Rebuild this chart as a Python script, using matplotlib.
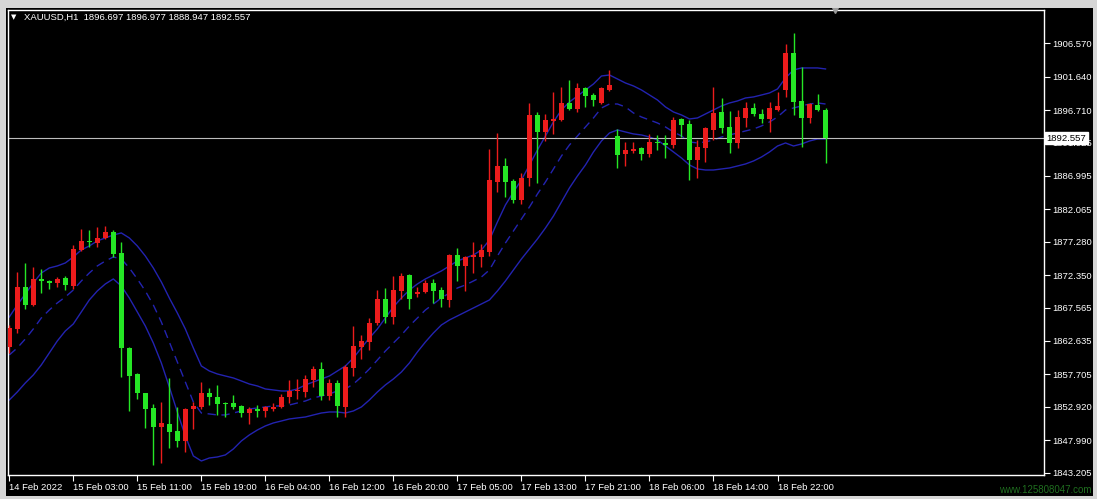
import matplotlib
matplotlib.use("Agg")
import matplotlib.pyplot as plt
import matplotlib.transforms as mtransforms
from matplotlib.patches import Rectangle
import numpy as np

# XAUUSD H1 candles
opens = [1861.75, 1864.36, 1870.56, 1867.95, 1871.83, 1871.54, 1871.15, 1871.89, 1870.75, 1876.07,
         1877.40, 1877.14, 1877.84, 1878.77, 1875.58, 1861.65, 1857.77, 1854.92, 1852.71, 1849.99,
         1850.39, 1849.36, 1847.93, 1852.56, 1852.94, 1855.01, 1854.33, 1853.53, 1853.53, 1853.05,
         1852.06, 1852.56, 1852.35, 1852.56, 1852.85, 1854.33, 1855.21, 1855.16, 1856.88, 1858.46,
         1854.52, 1856.40, 1852.94, 1858.61, 1861.80, 1862.54, 1865.25, 1868.79, 1866.22, 1870.06,
         1872.33, 1869.57, 1869.91, 1871.15, 1870.16, 1868.69, 1875.33, 1873.71, 1875.08, 1875.08,
         1875.82, 1886.15, 1888.46, 1886.29, 1883.45, 1886.65, 1895.99, 1893.53, 1895.15, 1895.25,
         1897.80, 1896.83, 1899.93, 1898.94, 1897.72, 1899.68, 1892.89, 1890.20, 1890.71, 1891.16,
         1890.20, 1892.00, 1891.81, 1891.56, 1895.36, 1894.66, 1889.35, 1891.16, 1893.78, 1896.48,
         1894.17, 1891.81, 1895.50, 1896.98, 1896.14, 1895.36, 1896.73, 1899.68, 1905.18, 1898.10,
         1895.50, 1897.47, 1896.697]
highs = [1865.00, 1872.87, 1874.19, 1873.60, 1873.22, 1871.70, 1872.04, 1872.23, 1876.81, 1879.12,
         1879.02, 1879.51, 1879.61, 1879.02, 1877.29, 1861.80, 1857.87, 1855.01, 1853.34, 1853.59,
         1857.13, 1852.94, 1852.70, 1853.68, 1856.63, 1855.66, 1856.15, 1853.68, 1854.67, 1853.19,
         1852.94, 1853.19, 1853.05, 1853.44, 1854.82, 1856.88, 1856.96, 1857.62, 1858.95, 1859.58,
         1856.99, 1856.88, 1859.10, 1864.85, 1863.52, 1865.99, 1870.16, 1870.41, 1872.23, 1872.63,
         1872.52, 1870.65, 1871.64, 1871.74, 1870.65, 1875.48, 1876.32, 1875.18, 1877.29, 1876.95,
         1890.93, 1893.38, 1889.60, 1886.50, 1887.47, 1897.80, 1896.48, 1896.14, 1899.43, 1900.17,
         1901.15, 1900.76, 1900.08, 1899.19, 1900.17, 1902.63, 1893.92, 1892.05, 1891.98, 1891.31,
         1893.23, 1893.04, 1893.04, 1895.74, 1895.50, 1895.25, 1892.30, 1894.26, 1900.17, 1898.45,
         1896.62, 1896.73, 1897.95, 1897.80, 1896.83, 1897.95, 1899.43, 1906.47, 1908.13, 1903.12,
         1897.72, 1899.09, 1896.977]
lows = [1860.87, 1863.86, 1867.32, 1867.80, 1869.77, 1870.27, 1870.56, 1870.16, 1870.27, 1875.96,
        1876.55, 1876.55, 1877.65, 1875.08, 1857.37, 1852.35, 1854.04, 1849.76, 1844.34, 1844.59,
        1846.89, 1846.95, 1846.30, 1849.61, 1852.56, 1853.19, 1851.72, 1851.38, 1852.56, 1851.38,
        1850.39, 1851.38, 1851.47, 1852.35, 1852.71, 1853.49, 1854.01, 1854.42, 1855.89, 1853.93,
        1853.93, 1851.38, 1851.47, 1857.47, 1859.94, 1861.31, 1865.00, 1865.34, 1865.15, 1868.79,
        1867.32, 1869.09, 1869.68, 1868.29, 1867.70, 1867.70, 1871.54, 1870.02, 1872.63, 1873.60,
        1875.18, 1884.67, 1883.93, 1883.05, 1882.86, 1885.51, 1885.91, 1892.20, 1893.19, 1895.15,
        1896.73, 1896.48, 1897.21, 1897.32, 1897.61, 1899.53, 1888.12, 1888.42, 1890.38, 1889.35,
        1889.84, 1890.82, 1889.60, 1891.08, 1892.70, 1886.40, 1886.65, 1889.10, 1892.30, 1893.29,
        1890.34, 1891.08, 1894.26, 1895.84, 1894.76, 1893.53, 1896.62, 1898.69, 1895.99, 1891.31,
        1894.76, 1896.62, 1888.947]
closes = [1864.56, 1870.56, 1867.95, 1871.79, 1871.54, 1871.15, 1871.83, 1870.90, 1876.17, 1877.44,
          1877.20, 1877.88, 1878.72, 1875.48, 1861.56, 1857.52, 1855.01, 1852.60, 1849.99, 1850.58,
          1849.25, 1847.93, 1852.56, 1853.05, 1855.01, 1854.42, 1853.30, 1853.34, 1852.94, 1852.06,
          1852.65, 1852.35, 1852.85, 1852.94, 1854.42, 1855.23, 1855.30, 1856.99, 1858.46, 1854.52,
          1856.49, 1853.05, 1858.85, 1861.90, 1862.68, 1865.34, 1868.88, 1866.22, 1870.16, 1872.23,
          1868.79, 1869.91, 1871.15, 1870.06, 1868.79, 1875.33, 1873.71, 1875.08, 1875.33, 1876.07,
          1886.40, 1888.46, 1886.15, 1883.45, 1886.65, 1895.99, 1893.53, 1895.25, 1895.36, 1897.80,
          1896.83, 1900.02, 1898.79, 1898.20, 1900.02, 1900.42, 1890.09, 1890.87, 1891.00, 1890.20,
          1892.05, 1891.81, 1891.61, 1895.25, 1894.51, 1889.35, 1891.31, 1894.03, 1896.33, 1894.03,
          1891.90, 1895.74, 1896.98, 1896.14, 1895.36, 1896.98, 1897.32, 1905.18, 1897.95, 1895.50,
          1897.61, 1896.73, 1892.557]

# Bollinger bands
bb_upper = [1866.18, 1867.95, 1869.57, 1871.20, 1872.67, 1873.41, 1873.71, 1874.15, 1875.03, 1876.07,
            1876.66, 1877.40, 1877.84, 1878.28, 1878.58, 1877.84, 1876.66, 1875.18, 1873.41, 1871.35,
            1868.98, 1866.77, 1864.41, 1861.61, 1858.95, 1858.21, 1857.77, 1857.47, 1857.18, 1856.74,
            1856.29, 1856.00, 1855.56, 1855.41, 1855.26, 1855.26, 1855.56, 1856.15, 1856.59, 1857.03,
            1857.47, 1858.21, 1858.95, 1860.13, 1861.61, 1863.08, 1864.41, 1866.03, 1867.66, 1868.98,
            1870.16, 1871.05, 1871.79, 1872.38, 1872.97, 1873.71, 1874.44, 1874.89, 1875.33, 1876.07,
            1877.54, 1880.20, 1882.71, 1884.63, 1886.40, 1888.61, 1890.82, 1892.89, 1894.96, 1896.73,
            1897.91, 1898.79, 1899.68, 1900.56, 1901.74, 1901.89, 1901.30, 1900.71, 1900.27, 1899.68,
            1898.94, 1898.20, 1897.17, 1896.43, 1895.99, 1895.40, 1895.55, 1896.14, 1896.73, 1897.32,
            1897.76, 1898.06, 1898.50, 1898.65, 1898.94, 1899.24, 1899.83, 1901.45, 1902.63, 1902.93,
            1902.93, 1902.93, 1902.78]
bb_middle = [1860.57, 1861.61, 1862.93, 1864.41, 1866.03, 1867.21, 1868.25, 1869.13, 1870.16, 1871.49,
             1872.67, 1873.71, 1874.44, 1875.03, 1874.74, 1873.41, 1871.79, 1870.02, 1867.95, 1865.44,
             1862.49, 1859.54, 1856.59, 1853.64, 1852.01, 1851.87, 1851.72, 1851.72, 1852.01, 1852.31,
             1852.60, 1852.75, 1852.90, 1853.05, 1853.05, 1853.19, 1853.49, 1853.78, 1854.23, 1854.52,
             1854.82, 1855.26, 1855.56, 1856.29, 1857.33, 1858.51, 1859.83, 1861.16, 1862.34, 1863.52,
             1864.85, 1866.03, 1867.21, 1868.10, 1868.98, 1869.72, 1870.46, 1870.90, 1871.49, 1872.08,
             1873.12, 1875.18, 1877.10, 1878.87, 1880.64, 1882.41, 1884.33, 1886.10, 1888.02, 1889.94,
             1891.56, 1892.89, 1894.22, 1895.55, 1897.02, 1897.61, 1897.61, 1897.17, 1896.28, 1895.69,
             1895.25, 1894.81, 1894.22, 1893.48, 1892.89, 1892.01, 1891.86, 1892.01, 1892.30, 1892.74,
             1893.04, 1893.33, 1893.63, 1893.92, 1894.37, 1894.96, 1895.69, 1896.73, 1897.02, 1897.32,
             1897.61, 1897.76, 1897.61]
bb_lower = [1853.93, 1855.11, 1856.44, 1857.62, 1859.10, 1860.87, 1862.64, 1864.11, 1865.15, 1866.92,
            1868.69, 1870.02, 1871.05, 1871.79, 1870.75, 1868.98, 1866.92, 1864.85, 1862.34, 1859.39,
            1855.85, 1852.16, 1848.62, 1845.67, 1844.93, 1845.37, 1845.52, 1845.82, 1846.70, 1847.88,
            1848.77, 1849.50, 1850.10, 1850.54, 1850.83, 1851.13, 1851.28, 1851.42, 1851.72, 1852.01,
            1852.16, 1852.16, 1852.01, 1852.31, 1852.90, 1853.93, 1855.11, 1856.15, 1857.03, 1858.06,
            1859.39, 1861.02, 1862.49, 1863.82, 1865.00, 1865.74, 1866.33, 1866.92, 1867.51, 1868.10,
            1868.69, 1870.02, 1871.49, 1873.12, 1874.74, 1876.22, 1877.69, 1879.31, 1881.08, 1883.15,
            1885.22, 1886.99, 1888.61, 1890.53, 1892.15, 1893.33, 1893.78, 1893.48, 1893.19, 1893.04,
            1892.74, 1892.30, 1891.41, 1890.53, 1889.64, 1888.61, 1888.02, 1887.87, 1887.87, 1888.02,
            1888.17, 1888.46, 1888.76, 1889.20, 1889.79, 1890.53, 1891.41, 1891.86, 1891.41, 1891.71,
            1892.15, 1892.45, 1892.45]

price_ticks = [1843.205, 1847.990, 1852.920, 1857.705, 1862.635, 1867.565, 1872.350,
               1877.280, 1882.065, 1886.995, 1891.925, 1896.710, 1901.640, 1906.570]
time_labels = ["14 Feb 2022", "15 Feb 03:00", "15 Feb 11:00", "15 Feb 19:00", "16 Feb 04:00",
               "16 Feb 12:00", "16 Feb 20:00", "17 Feb 05:00", "17 Feb 13:00", "17 Feb 21:00",
               "18 Feb 06:00", "18 Feb 14:00", "18 Feb 22:00"]
label_every = 8
last_price = 1892.557
header = "XAUUSD,H1  1896.697 1896.977 1888.947 1892.557"

UP = "#ec1c1c"
DOWN = "#25e625"
BAND = "#2323b0"
FONT = "Liberation Sans"

W, H = 1097, 499
fig = plt.figure(figsize=(W / 100, H / 100), dpi=100, facecolor="black")

# grey window frame around the terminal chart
for (x0, y0, w, h) in [(0, H - 8, W, 8), (0, 0, 6, H), (0, 0, W, 3), (W - 4, 0, 4, H)]:
    fig.patches.append(Rectangle((x0 / W, y0 / H), w / W, h / H, transform=fig.transFigure,
                                 facecolor="#d6d6d6", edgecolor="none"))

ax = fig.add_axes([8 / W, 24 / H, 1036 / W, 465 / H])
ax.set_facecolor("black")

x = np.arange(len(opens))
o = np.array(opens)
c = np.array(closes)
colors = np.where(c > o, UP, DOWN)

# bands
ax.plot(x, bb_upper, color=BAND, lw=1.0, zorder=1)
ax.plot(x, bb_lower, color=BAND, lw=1.0, zorder=1)
ax.plot(x, bb_middle, color=BAND, lw=1.0, ls=(0, (6, 4)), zorder=1)

# candles
ax.vlines(x, lows, highs, colors=colors, lw=1.0, zorder=3)
body_low = np.minimum(o, c)
body_h = np.maximum(np.abs(c - o), 0.15)
ax.bar(x, body_h, bottom=body_low, width=0.62, color=colors, linewidth=0, zorder=3)

# current price line + label
ax.axhline(last_price, color="#bdbdbd", lw=0.8, zorder=2)
trans = mtransforms.blended_transform_factory(ax.transAxes, ax.transData)
ax.text(1.0025, last_price, f"{last_price:.3f}", transform=trans, ha="left", va="center",
        fontsize=6.8, family=FONT, color="black", clip_on=False, zorder=10,
        bbox=dict(facecolor="white", edgecolor="white", pad=1.2))

ax.set_xlim(-0.16, 129.3)
ax.set_ylim(1842.86, 1911.48)

ax.yaxis.tick_right()
ax.set_yticks(price_ticks)
ax.set_yticklabels([f"{p:.3f}" for p in price_ticks])
ax.set_xticks(x[::label_every][:len(time_labels)])
ax.set_xticklabels(time_labels, ha="left")
ax.tick_params(axis="both", colors="white", labelcolor="white", length=4, width=0.8,
               labelsize=6.8, pad=2)
for lab in ax.get_xticklabels() + ax.get_yticklabels():
    lab.set_family(FONT)
for s in ax.spines.values():
    s.set_color("white")
    s.set_linewidth(1.0)

# header and chart shift marker
fig.text(11 / W, 1 - 17 / H, "\u25BC", fontsize=5, color="white", va="center")
fig.text(24 / W, 1 - 17 / H, header, fontsize=6.8, family=FONT, color="white", va="center")
ax.plot([0.798], [1.0], transform=ax.transAxes, marker="v", markersize=5,
        color="#9a9a9a", clip_on=False, zorder=10)

fig.text(1092 / W, 1 - 490 / H, "www.125808047.com", fontsize=7, family=FONT,
         color="#1f6e1f", ha="right", va="center")

fig.savefig("out.png", dpi=100, facecolor="black")
